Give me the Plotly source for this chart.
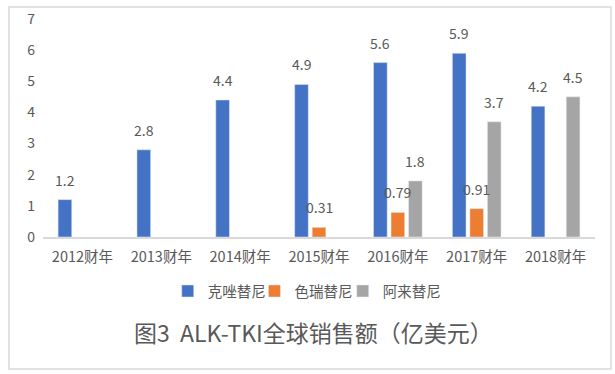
import plotly.graph_objects as go

categories = ["2012财年", "2013财年", "2014财年", "2015财年", "2016财年", "2017财年", "2018财年"]
series_names = ["克唑替尼", "色瑞替尼", "阿来替尼"]
crizotinib = [1.2, 2.8, 4.4, 4.9, 5.6, 5.9, 4.2]
ceritinib = [None, None, None, 0.31, 0.79, 0.91, None]
alectinib = [None, None, None, None, 1.8, 3.7, 4.5]
label_text = {
    0: ["1.2", "2.8", "4.4", "4.9", "5.6", "5.9", "4.2"],
    1: [None, None, None, "0.31", "0.79", "0.91", None],
    2: [None, None, None, None, "1.8", "3.7", "4.5"],
}
y_ticks = [0, 1, 2, 3, 4, 5, 6, 7]
title_text = "图3  ALK-TKI全球销售额（亿美元）"

colors = ["#4472C4", "#ED7D31", "#A5A5A5"]
series_values = [crizotinib, ceritinib, alectinib]
legend_ids = ["legend", "legend2", "legend3"]
legend_x = [0.226, 0.383, 0.543]
FONT = "Noto Sans CJK SC, Noto Sans, sans-serif"
TXT = "#595959"

fig = go.Figure()
for name, vals, col, lid in zip(series_names, series_values, colors, legend_ids):
    fig.add_trace(go.Bar(name=name, x=categories, y=vals, marker_color=col,
                         legend=lid, hoverinfo="x+y"))

annotations = []
for i, vals in enumerate(series_values):
    for c, v, t in zip(categories, vals, label_text[i]):
        if v is None:
            continue
        annotations.append(dict(x=c, y=v, xref="x", yref="y", text=t, showarrow=False,
                                xshift=(i - 1) * 17.5, yanchor="bottom", yshift=8,
                                font=dict(size=14, color=TXT, family=FONT)))
annotations.append(dict(x=0.49, y=-0.436, xref="paper", yref="paper", text=title_text,
                        showarrow=False, xanchor="center", yanchor="middle",
                        font=dict(size=23, color=TXT, family=FONT)))

legend_common = dict(orientation="h", xanchor="left", y=-0.248, yanchor="middle",
                     font=dict(size=14.5, color=TXT, family=FONT), itemwidth=30,
                     bgcolor="rgba(0,0,0,0)")

fig.update_layout(
    width=615, height=374,
    margin=dict(l=43, r=20, t=19, b=137, autoexpand=False),
    paper_bgcolor="white", plot_bgcolor="white",
    barmode="group", bargap=0.334, bargroupgap=0.22,
    font=dict(family=FONT, color=TXT, size=14),
    hovermode=False,
    showlegend=True,
    legend=dict(x=legend_x[0], **legend_common),
    legend2=dict(x=legend_x[1], **legend_common),
    legend3=dict(x=legend_x[2], **legend_common),
    annotations=annotations,
    shapes=[dict(type="rect", xref="paper", yref="paper", x0=-0.0616, x1=1.029,
                 y0=-0.6055, y1=1.055, line=dict(color="#D9D9D9", width=1.5),
                 fillcolor="rgba(0,0,0,0)", layer="below")],
)
fig.update_xaxes(showline=True, linecolor="#D9D9D9", linewidth=1.5, showgrid=False,
                 ticks="", ticklabelstandoff=6,
                 tickfont=dict(size=14.5, color=TXT, family=FONT))
fig.update_yaxes(range=[0, 7], tickvals=y_ticks, showgrid=False, zeroline=False,
                 showline=False, ticks="", ticklabelstandoff=7,
                 tickfont=dict(size=14, color=TXT, family=FONT))

fig.write_html("out.html", config={"displayModeBar": False},
               post_script="document.body.style.margin='0';")
